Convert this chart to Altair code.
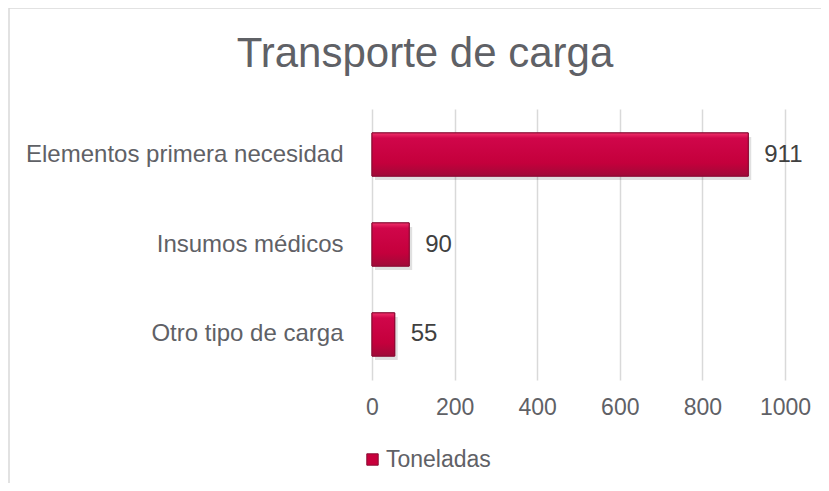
import altair as alt
import pandas as pd

categories = ["Elementos primera necesidad", "Insumos médicos", "Otro tipo de carga"]
values = [911, 90, 55]
series_name = "Toneladas"
title_text = "Transporte de carga"
x_ticks = [0, 200, 400, 600, 800, 1000]

df = pd.DataFrame({"cat": categories, "val": values, "serie": [series_name] * len(values)})

FONT = "Liberation Sans"
GRAY = "#5f6166"

x_enc = alt.X("val:Q", scale=alt.Scale(domain=[0, 1000], nice=False),
              axis=alt.Axis(values=x_ticks, format="d", title=None, domain=False, ticks=False,
                            labelFontSize=23, labelColor=GRAY, labelPadding=16,
                            labelFlush=False, labelOverlap=False,
                            labelFont=FONT, gridColor="#d9d9d9", gridWidth=1.5))
y_enc = alt.Y("cat:N", sort=categories,
              scale=alt.Scale(paddingInner=0.52, paddingOuter=0.266),
              axis=alt.Axis(title=None, domain=False, ticks=False, grid=False,
                            labelFontSize=24, labelColor=GRAY, labelPadding=29,
                            labelFont=FONT, labelLimit=400))

base = alt.Chart(df)

shadow = base.mark_bar(color="#000000", opacity=0.12, xOffset=3, yOffset=4).encode(
    x=x_enc, y=y_enc)

bars = base.mark_bar(stroke="#8a0a33", strokeWidth=1).encode(
    x=x_enc, y=y_enc,
    fill=alt.Fill("serie:N",
                  scale=alt.Scale(range=["#c8003c"]),
                  legend=alt.Legend(title=None, orient="none", legendX=-11, legendY=339,
                                    symbolType="square", symbolSize=130,
                                    symbolStrokeColor="#8a0a33", symbolStrokeWidth=1,
                                    labelFontSize=23, labelColor=GRAY, labelFont=FONT,
                                    labelOffset=2))
)

bevel = base.mark_bar(
    stroke="#8a0a33", strokeWidth=1,
    color=alt.Gradient(gradient="linear",
                       stops=[alt.GradientStop(color="#f0306a", offset=0),
                              alt.GradientStop(color="#d0064a", offset=0.12),
                              alt.GradientStop(color="#c4003c", offset=0.7),
                              alt.GradientStop(color="#a00a38", offset=1)],
                       x1=0, x2=0, y1=0, y2=1)
).encode(x=x_enc, y=y_enc)

labels = base.mark_text(align="left", baseline="middle", dx=16, fontSize=24,
                        color="#404040", font=FONT).encode(
    x="val:Q", y=alt.Y("cat:N", sort=categories), text="val:Q")

title = alt.Chart(pd.DataFrame({"t": [title_text]})).mark_text(
    align="center", baseline="alphabetic", fontSize=42, color=GRAY, font=FONT
).encode(text="t:N", x=alt.value(53), y=alt.value(-42))

border = alt.Chart(pd.DataFrame({"t": [0]})).mark_rect(
    fill=None, stroke="#d9d9d9", strokeWidth=1.5
).encode(x=alt.value(-363), x2=alt.value(480), y=alt.value(-101), y2=alt.value(420))

chart = alt.layer(border, shadow, bars, bevel, labels, title).properties(
    width=413, height=271,
    autosize=alt.AutoSizeParams(type="none"),
    padding={"left": 364, "top": 101, "right": 36, "bottom": 103},
).configure(background="white").configure_view(stroke=None)

chart.save("out.html", embed_options={"renderer": "svg", "actions": False})
